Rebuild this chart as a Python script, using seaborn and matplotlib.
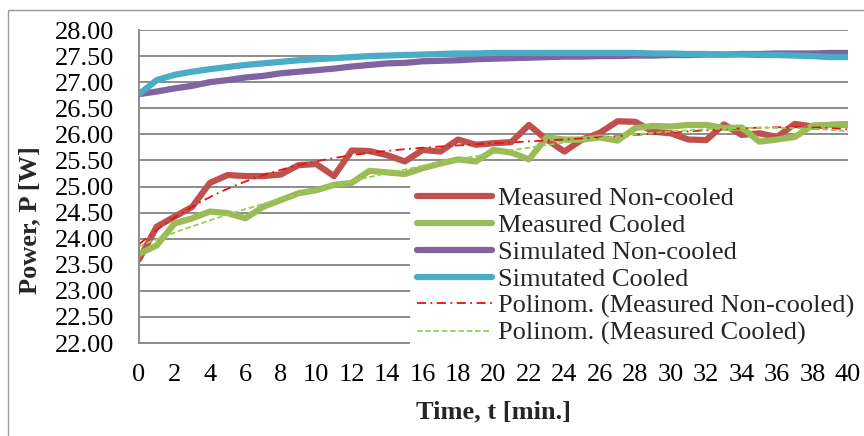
import numpy as np
import matplotlib
matplotlib.use("Agg")
import matplotlib.pyplot as plt
import seaborn as sns
from matplotlib.patches import Rectangle

# ---------------- data ----------------
time_min = list(range(0, 41))
measured_non_cooled = [23.60, 24.23, 24.42, 24.61, 25.07, 25.22, 25.20, 25.20, 25.23, 25.41,
                       25.43, 25.20, 25.69, 25.68, 25.60, 25.48, 25.70, 25.67, 25.90, 25.80,
                       25.83, 25.85, 26.18, 25.90, 25.67, 25.90, 26.03, 26.25, 26.24, 26.05,
                       26.02, 25.90, 25.89, 26.19, 25.99, 26.02, 25.95, 26.20, 26.15, 26.18,
                       26.19]
measured_cooled = [23.71, 23.87, 24.29, 24.39, 24.52, 24.49, 24.39, 24.61, 24.74, 24.87,
                   24.93, 25.03, 25.07, 25.30, 25.27, 25.24, 25.35, 25.44, 25.52, 25.48,
                   25.70, 25.65, 25.52, 25.94, 25.90, 25.90, 25.94, 25.88, 26.12, 26.16,
                   26.15, 26.18, 26.18, 26.12, 26.13, 25.86, 25.90, 25.95, 26.17, 26.18,
                   26.19]
simulated_non_cooled = [26.77, 26.82, 26.88, 26.93, 27.00, 27.04, 27.09, 27.12, 27.17, 27.20,
                        27.23, 27.26, 27.30, 27.33, 27.36, 27.37, 27.40, 27.41, 27.42, 27.44,
                        27.45, 27.46, 27.47, 27.48, 27.49, 27.49, 27.50, 27.50, 27.51, 27.51,
                        27.52, 27.52, 27.53, 27.53, 27.54, 27.54, 27.55, 27.55, 27.55, 27.56,
                        27.56]
simulated_cooled = [26.77, 27.04, 27.14, 27.20, 27.25, 27.29, 27.33, 27.36, 27.39, 27.42,
                    27.44, 27.46, 27.48, 27.50, 27.51, 27.52, 27.53, 27.54, 27.55, 27.55,
                    27.56, 27.56, 27.56, 27.56, 27.56, 27.56, 27.56, 27.56, 27.56, 27.55,
                    27.55, 27.54, 27.54, 27.53, 27.53, 27.52, 27.52, 27.51, 27.50, 27.48,
                    27.48]

series_labels = ["Measured Non-cooled", "Measured Cooled",
                 "Simulated Non-cooled", "Simutated Cooled"]
trend_labels = ["Polinom. (Measured Non-cooled)", "Polinom. (Measured Cooled)"]
y_tick_values = [22.0, 22.5, 23.0, 23.5, 24.0, 24.5, 25.0, 25.5, 26.0, 26.5, 27.0, 27.5, 28.0]
x_tick_labels = [0, 2, 4, 6, 8, 10, 12, 14, 16, 18, 20, 22, 24, 26, 28, 30, 32, 34, 36, 38, 40]
x_minor_ticks = [1, 3, 5, 7, 9, 11, 13, 15, 17, 19, 21, 23, 25, 27, 29, 31, 33, 35, 37, 39]
x_title = "Time, t [min.]"
y_title = "Power, P [W]"

# ---------------- style ----------------
sns.set_style("white")
plt.rcParams["font.family"] = ["Liberation Serif", "DejaVu Serif"]

colors = ["#C0504D", "#9BBB59", "#8064A2", "#4BACC6"]
trend_colors = ["#E3140F", "#92D050"]
axis_gray = "#8C8C8C"

W, H = 864, 436
fig = plt.figure(figsize=(W / 100, H / 100), dpi=100)
fig.patch.set_facecolor("white")
x0, x1, y0, y1 = 139, 848, 30, 343
ax = fig.add_axes([x0 / W, 1 - y1 / H, (x1 - x0) / W, (y1 - y0) / H])

# figure border (left + top visible)
fig.patches.append(Rectangle((8 / W, -0.2), 1.2, 1.2 - 10 / H, transform=fig.transFigure,
                             fill=False, edgecolor="#9A9A9A", lw=1.0, clip_on=False))

series = [measured_non_cooled, measured_cooled, simulated_non_cooled, simulated_cooled]
handles = []
for vals, lab, col in zip(series, series_labels, colors):
    sns.lineplot(x=time_min, y=vals, ax=ax, color=col, linewidth=4.5, label=lab,
                 legend=False, solid_joinstyle="round")
    handles.append(ax.lines[-1])

# polynomial trendlines computed from the measured series
tt = np.linspace(0, 40, 300)
for vals, lab, col, dsh in zip([measured_non_cooled, measured_cooled], trend_labels,
                               trend_colors, [(5, 2.5, 1, 2.5), (3, 1.6)]):
    coef = np.polyfit(time_min, vals, 4)
    ln, = ax.plot(tt, np.polyval(coef, tt), color=col, lw=1.3, label=lab)
    ln.set_dashes(dsh)
    handles.append(ln)

ax.set_xlim(0, 40)
ax.set_ylim(22, 28)
ax.set_yticks(y_tick_values)
ax.set_yticklabels([f"{v:.2f}" for v in y_tick_values])
ax.set_xticks(x_tick_labels)
ax.set_xticklabels([str(v) for v in x_tick_labels])
ax.set_xticks(x_minor_ticks, minor=True)

ax.yaxis.grid(True, color=axis_gray, lw=1.4)
ax.xaxis.grid(False)
ax.set_axisbelow(True)
for s in ["top", "right"]:
    ax.spines[s].set_visible(False)
for s in ["left", "bottom"]:
    ax.spines[s].set_color(axis_gray)
    ax.spines[s].set_linewidth(1.4)

ax.tick_params(axis="both", which="both", direction="out", length=4, width=1.2,
               color=axis_gray, labelsize=19, labelcolor="black")
ax.tick_params(axis="y", pad=14)
ax.tick_params(axis="x", which="both", pad=11)

ax.set_xlabel(x_title, fontsize=19, fontweight="bold", va="center", ha="center")
ax.xaxis.set_label_coords(0.5, (y1 - 412) / (y1 - y0))
ax.set_ylabel(y_title, fontsize=19, fontweight="bold", va="center", ha="center")
ax.yaxis.set_label_coords((30 - x0) / (x1 - x0), 1 - (220 - y0) / (y1 - y0))

leg = ax.legend(handles, series_labels + trend_labels, loc="upper left",
                bbox_to_anchor=(410 / W, 1 - 180 / H), bbox_transform=fig.transFigure,
                frameon=True, facecolor="white", edgecolor="none", framealpha=1,
                fancybox=False, fontsize=19, handlelength=2.85, handletextpad=0.22,
                labelspacing=0.13, borderpad=0.25, borderaxespad=0)

fig.savefig("out.png", dpi=100, facecolor="white")
